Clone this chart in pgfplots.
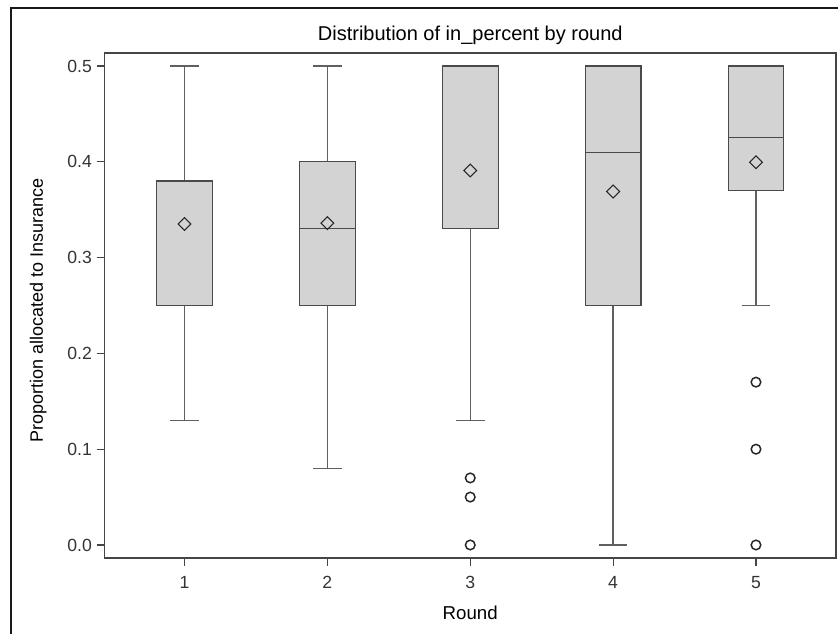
\documentclass[border=0pt]{standalone}
\usepackage{fontspec}
\setmainfont{Liberation Sans}
\usepackage{pgfplots}
\pgfplotsset{compat=1.18}
\usepgfplotslibrary{statistics}
\definecolor{boxfill}{HTML}{D3D3D3}
\definecolor{boxline}{HTML}{4A4A4A}
\definecolor{whisk}{HTML}{606060}
\definecolor{axline}{HTML}{454545}
\begin{document}
\begin{tikzpicture}[x=0.75pt,y=0.75pt]
\useasboundingbox (0,0) rectangle (838,634);
\draw[line width=1.3pt, black!90] (11,0) -- (11,626) -- (838,626);
\begin{axis}[
  at={(78.375pt,57pt)}, anchor=south west, scale only axis,
  width=548.6pt, height=378.75pt,
  xmin=0.44, xmax=5.56, ymin=-0.0136, ymax=0.5136,
  axis line style={axline, line width=0.9pt},
  xtick={1,2,3,4,5}, ytick={0,0.1,0.2,0.3,0.4,0.5},
  xtick pos=left, ytick pos=left,
  tick align=outside, major tick length=6pt,
  tick style={axline, line width=0.8pt},
  /pgf/number format/assume math mode=true,
  ticklabel style={font=\fontsize{13.2}{15}\selectfont, text=black!80},
  xticklabel style={yshift=-4.5pt},
  yticklabel style={/pgf/number format/.cd, fixed, fixed zerofill, precision=1},
  title={Distribution of in\_percent by round},
  title style={font=\fontsize{15}{18}\selectfont, at={(axis description cs:0.5,1)}, anchor=base, yshift=3pt},
  xlabel={Round},
  xlabel style={font=\fontsize{14}{16}\selectfont, at={(axis description cs:0.5,0)}, anchor=base, yshift=-46.5pt},
  ylabel={Proportion allocated to Insurance},
  ylabel style={font=\fontsize{13.5}{16}\selectfont, at={(axis description cs:-0.0841,0.491)}, anchor=base},
  boxplot/draw direction=y,
  boxplot/every box/.style={draw=boxline, fill=boxfill, line width=0.9pt},
  boxplot/every median/.style={draw=boxline, line width=0.9pt},
  boxplot/every whisker/.style={draw=whisk, line width=1pt},
]
\addplot[boxplot prepared={lower whisker=0.13, lower quartile=0.25, median=0.38, upper quartile=0.38, upper whisker=0.5, draw position=1, box extend=0.39, whisker extend=0.2}, draw=boxline, mark=none] coordinates {};
\addplot[boxplot prepared={lower whisker=0.08, lower quartile=0.25, median=0.33, upper quartile=0.40, upper whisker=0.5, draw position=2, box extend=0.39, whisker extend=0.2}, draw=boxline, mark=none] coordinates {};
\addplot[boxplot prepared={lower whisker=0.13, lower quartile=0.33, median=0.50, upper quartile=0.50, upper whisker=0.5, draw position=3, box extend=0.39, whisker extend=0.2}, draw=boxline, mark=none] coordinates {};
\addplot[boxplot prepared={lower whisker=0.0, lower quartile=0.25, median=0.41, upper quartile=0.50, upper whisker=0.5, draw position=4, box extend=0.39, whisker extend=0.2}, draw=boxline, mark=none] coordinates {};
\addplot[boxplot prepared={lower whisker=0.25, lower quartile=0.37, median=0.425, upper quartile=0.50, upper whisker=0.5, draw position=5, box extend=0.39, whisker extend=0.2}, draw=boxline, mark=none] coordinates {};
% means
\addplot[only marks, mark=square, mark size=3.4pt, mark options={rotate=45, draw=black!85, fill=none, line width=0.8pt}] coordinates {(1,0.335) (2,0.336) (3,0.391) (4,0.369) (5,0.3995)};
% outliers
\addplot[only marks, mark=o, mark size=3.6pt, mark options={draw=black!85, fill=none, line width=1.1pt}] coordinates {(3,0.07) (3,0.05) (3,0) (5,0.17) (5,0.10) (5,0)};
\end{axis}
\end{tikzpicture}
\end{document}
